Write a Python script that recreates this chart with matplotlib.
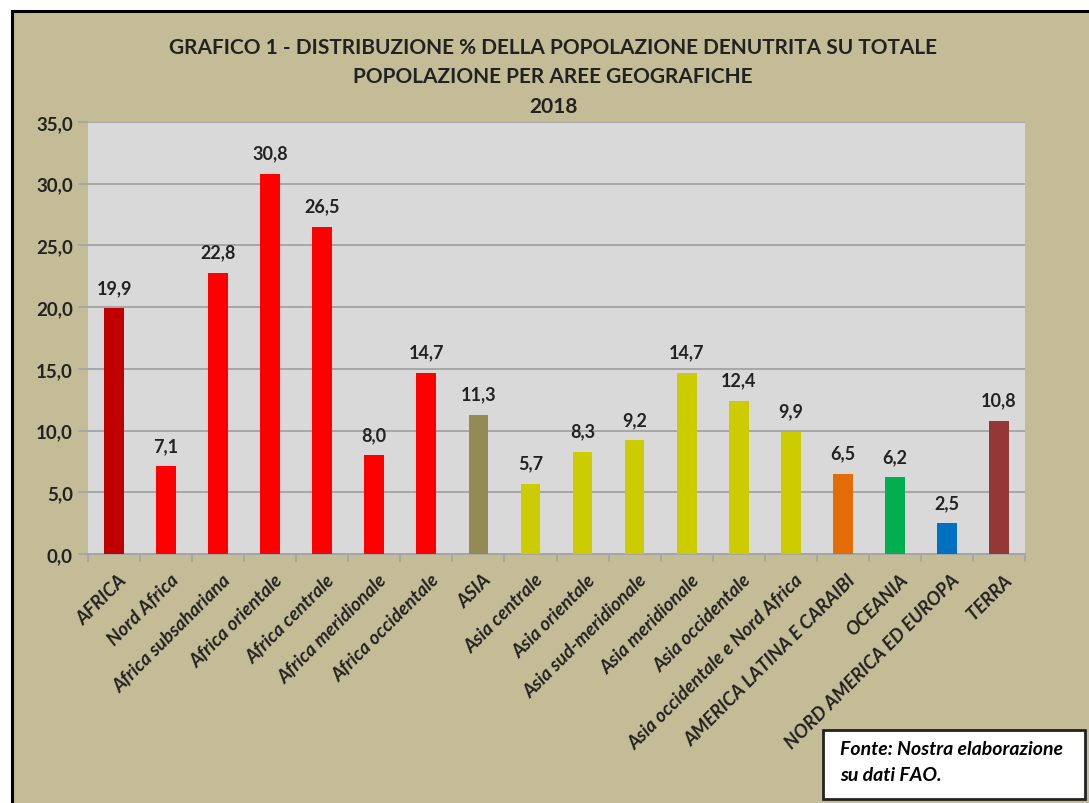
import matplotlib.pyplot as plt
from matplotlib.patches import Rectangle
from matplotlib.ticker import FuncFormatter
import matplotlib.transforms as mtransforms

# dati
aree = ['AFRICA', 'Nord Africa', 'Africa subsahariana', 'Africa orientale',
        'Africa centrale', 'Africa meridionale', 'Africa occidentale', 'ASIA',
        'Asia centrale', 'Asia orientale', 'Asia sud-meridionale',
        'Asia meridionale', 'Asia occidentale', 'Asia occidentale e Nord Africa',
        'AMERICA LATINA E CARAIBI', 'OCEANIA', 'NORD AMERICA ED EUROPA', 'TERRA']
valori = [19.9, 7.1, 22.8, 30.8, 26.5, 8.0, 14.7, 11.3, 5.7, 8.3, 9.2,
          14.7, 12.4, 9.9, 6.5, 6.2, 2.5, 10.8]
colori = ['#c00000'] + ['#ff0000'] * 6 + ['#948a54'] + ['#cccc00'] * 6 + \
         ['#e36c09', '#00b050', '#0070c0', '#953735']

W, H = 1089, 804
font = 'Lato'
tan = '#c4bc96'

fig = plt.figure(figsize=(W / 100, H / 100), dpi=100, facecolor='white')

# sfondo del grafico con bordo nero
fig.patches.append(Rectangle((12 / W, -0.1), 1.2, (H - 12) / H + 0.1,
                             transform=fig.transFigure, facecolor=tan,
                             edgecolor='black', linewidth=2.2, zorder=-5))

ax = fig.add_axes([88 / W, (H - 555) / H, (1025 - 88) / W, (555 - 123) / H])
ax.set_facecolor('#d9d9d9')

x = range(len(aree))
ax.bar(x, valori, width=0.38, color=colori, zorder=3)
for xi, v in zip(x, valori):
    ax.text(xi, v + 1.0, f'{v:.1f}'.replace('.', ','), ha='center', va='bottom',
            fontsize=13, fontweight='bold', family=font, color='#222222')

ax.set_ylim(0, 35)
ax.set_xlim(-0.5, len(aree) - 0.5)
ax.set_yticks(range(0, 36, 5))
ax.yaxis.set_major_formatter(FuncFormatter(lambda v, p: f'{v:.1f}'.replace('.', ',')))
ax.grid(axis='y', color='#a6a6a6', linewidth=1.4, zorder=1)
for s in ['top', 'right', 'left']:
    ax.spines[s].set_visible(False)
ax.spines['bottom'].set_color('#a6a6a6')
ax.spines['bottom'].set_linewidth(1.4)
ax.tick_params(axis='y', length=7, color='#a6a6a6', width=1.4, pad=4)
for lab in ax.get_yticklabels():
    lab.set_fontsize(13.5)
    lab.set_fontweight('bold')
    lab.set_family(font)
    lab.set_color('#222222')

# tick tra le categorie
ax.set_xticks([i - 0.5 for i in range(len(aree) + 1)], minor=True)
ax.tick_params(axis='x', which='minor', length=6, color='#a6a6a6', width=1.4)
ax.set_xticks(list(x))
ax.tick_params(axis='x', which='major', length=0, pad=12)
ax.set_xticklabels(aree, rotation=45, ha='right', rotation_mode='anchor',
                   fontsize=13.5, fontweight='bold', style='italic', family=font,
                   color='#222222')
offset = mtransforms.ScaledTranslation(4 / 100, 0, fig.dpi_scale_trans)
for lab in ax.get_xticklabels():
    lab.set_transform(lab.get_transform() + offset)

# titolo
titolo = ['GRAFICO 1 - DISTRIBUZIONE % DELLA POPOLAZIONE DENUTRITA SU TOTALE',
          'POPOLAZIONE PER AREE GEOGRAFICHE', '2018']
for riga, yp in zip(titolo, [48, 77, 107]):
    fig.text(553 / W, 1 - yp / H, riga, ha='center', va='center', fontsize=15,
             fontweight='bold', family=font, color='#222222')

# fonte
fig.patches.append(Rectangle((823 / W, (H - 800) / H), (1085 - 823) / W, 69 / H,
                             transform=fig.transFigure, facecolor='white',
                             edgecolor='#222222', linewidth=2, zorder=2))
fig.text(840 / W, 1 - 750 / H, 'Fonte: Nostra elaborazione', fontsize=14,
         fontweight='bold', style='italic', family=font, va='center', zorder=3)
fig.text(840 / W, 1 - 776 / H, 'su dati FAO.', fontsize=14,
         fontweight='bold', style='italic', family=font, va='center', zorder=3)

fig.savefig('out.png', dpi=100, facecolor='white')
